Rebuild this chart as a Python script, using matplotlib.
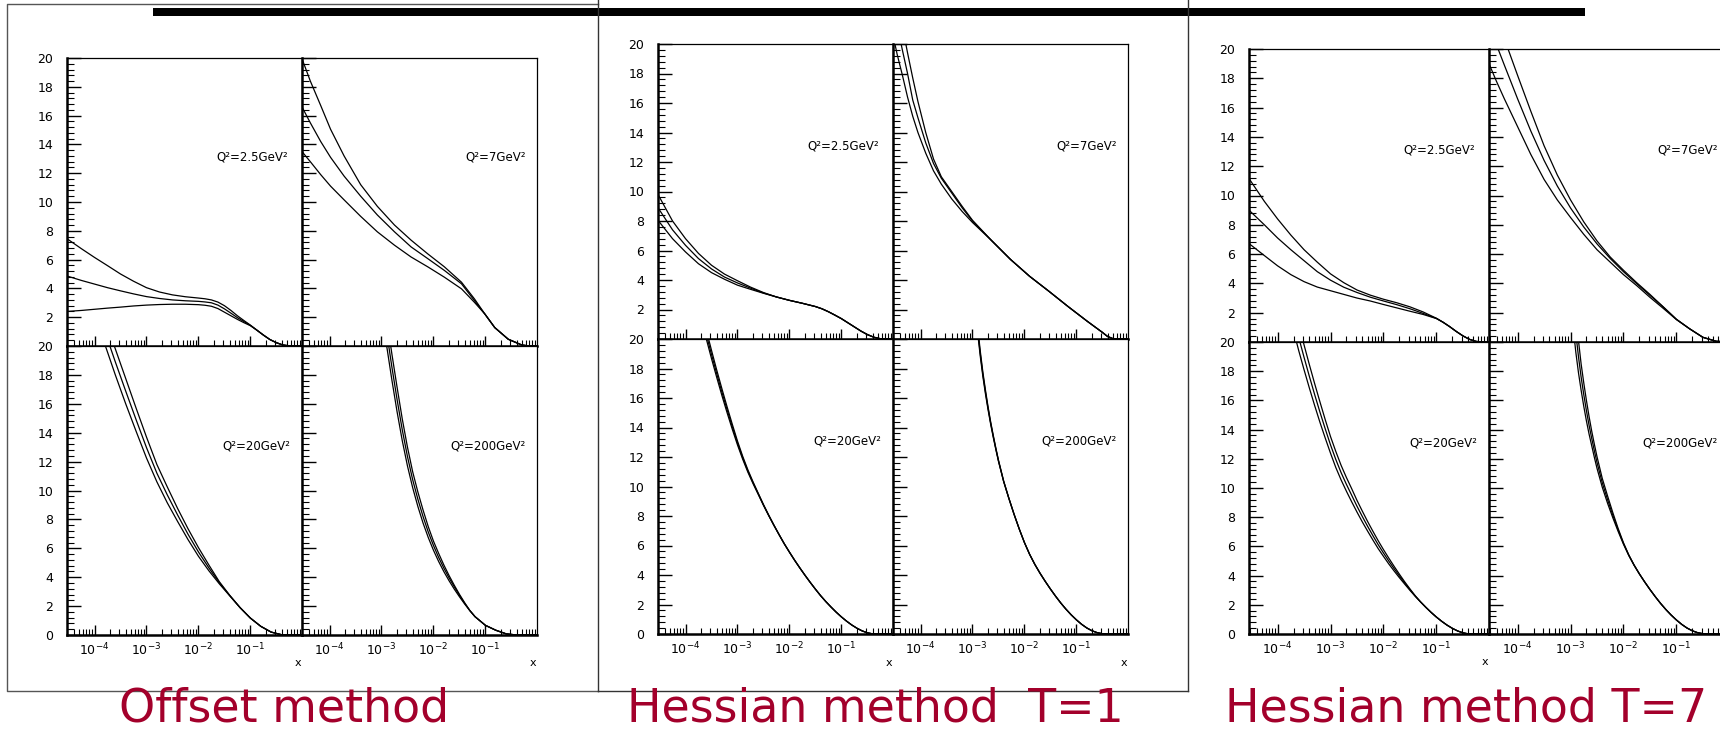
import numpy as np
import matplotlib
matplotlib.use('Agg')
import matplotlib.pyplot as plt
from matplotlib.ticker import MultipleLocator, LogLocator, NullFormatter, FuncFormatter
from matplotlib.lines import Line2D
from matplotlib.patches import Rectangle

# ---- data: log10(x) grids and three curves per Q^2 ----
# Offset method
off_q25_logx = [-4.53, -4.25, -4.0, -3.75, -3.5, -3.25, -3.0, -2.75, -2.5, -2.25, -2.0, -1.875, -1.75,
                -1.625, -1.5, -1.375, -1.25, -1.125, -1.0, -0.875, -0.75, -0.625, -0.5, -0.375, -0.25, 0.0]
off_q25_hi = [7.45, 6.75, 6.15, 5.58, 5.0, 4.5, 4.05, 3.75, 3.55, 3.42, 3.33, 3.28, 3.2,
              3.05, 2.8, 2.47, 2.1, 1.77, 1.45, 1.1, 0.76, 0.45, 0.23, 0.07, 0.01, 0.0]
off_q25_mid = [4.86, 4.55, 4.3, 4.05, 3.83, 3.62, 3.43, 3.3, 3.2, 3.14, 3.1, 3.06, 3.0,
               2.84, 2.58, 2.28, 1.97, 1.7, 1.43, 1.1, 0.76, 0.45, 0.23, 0.07, 0.01, 0.0]
off_q25_lo = [2.4, 2.47, 2.55, 2.63, 2.7, 2.78, 2.84, 2.88, 2.9, 2.9, 2.87, 2.83, 2.76,
              2.6, 2.35, 2.1, 1.85, 1.62, 1.41, 1.1, 0.76, 0.45, 0.23, 0.07, 0.01, 0.0]

off_q7_logx = [-4.53, -4.37, -4.17, -3.98, -3.72, -3.4, -3.08, -2.75, -2.43, -2.11, -1.79, -1.46,
               -1.21, -1.01, -0.82, -0.56, -0.3, -0.15, 0.0]
off_q7_hi = [19.95, 18.4, 16.7, 15.05, 13.2, 11.2, 9.7, 8.4, 7.35, 6.4, 5.5, 4.43,
             3.27, 2.22, 1.28, 0.47, 0.07, 0.0, 0.0]
off_q7_mid = [16.6, 15.5, 14.2, 13.1, 11.8, 10.4, 9.1, 7.93, 6.88, 6.07, 5.25, 4.32,
              3.15, 2.22, 1.28, 0.47, 0.07, 0.0, 0.0]
off_q7_lo = [13.5, 12.8, 11.9, 11.1, 10.15, 9.0, 7.93, 7.0, 6.18, 5.5, 4.78, 3.97,
             3.03, 2.22, 1.28, 0.47, 0.07, 0.0, 0.0]

off_q20_logx = [-3.8, -3.6, -3.4, -3.2, -3.0, -2.8, -2.6, -2.4, -2.2, -2.0, -1.8, -1.6, -1.4,
                -1.2, -1.0, -0.8, -0.6, -0.4, -0.2, 0.0]
off_q20_lo = [20.1, 18.0, 16.0, 14.1, 12.25, 10.6, 9.15, 7.85, 6.6, 5.45, 4.45, 3.55, 2.72,
              1.9, 1.17, 0.6, 0.2, 0.02, 0.0, 0.0]
off_q20_mid = [21.0, 18.9, 16.88, 14.9, 12.97, 11.2, 9.7, 8.3, 6.97, 5.75, 4.65, 3.63, 2.74,
               1.9, 1.17, 0.6, 0.2, 0.02, 0.0, 0.0]
off_q20_hi = [21.9, 19.8, 17.75, 15.7, 13.7, 11.8, 10.25, 8.75, 7.35, 6.05, 4.85, 3.7, 2.76,
              1.9, 1.17, 0.6, 0.2, 0.02, 0.0, 0.0]

off_q200_logx = [-3.0, -2.9, -2.8, -2.7, -2.6, -2.5, -2.4, -2.3, -2.2, -2.1, -2.0, -1.9, -1.8,
                 -1.7, -1.6, -1.5, -1.4, -1.3, -1.2, -1.0, -0.8, -0.6, -0.4, 0.0]
off_q200_lo = [22.4, 20.0, 17.65, 15.45, 13.45, 11.7, 10.2, 8.9, 7.75, 6.75, 5.87, 5.09, 4.39,
               3.76, 3.18, 2.65, 2.15, 1.69, 1.27, 0.67, 0.33, 0.08, 0.0, 0.0]
off_q200_mid = [23.4, 20.95, 18.55, 16.3, 14.2, 12.35, 10.75, 9.4, 8.2, 7.13, 6.2, 5.37, 4.63,
                3.96, 3.34, 2.75, 2.2, 1.69, 1.27, 0.67, 0.33, 0.08, 0.0, 0.0]
off_q200_hi = [24.4, 21.9, 19.45, 17.15, 14.95, 13.0, 11.3, 9.9, 8.65, 7.5, 6.5, 5.65, 4.85,
               4.12, 3.45, 2.82, 2.24, 1.7, 1.27, 0.67, 0.33, 0.08, 0.0, 0.0]

# Hessian method T=1
h1_q25_logx = [-4.53, -4.25, -4.0, -3.75, -3.5, -3.25, -3.0, -2.75, -2.5, -2.25, -2.0, -1.75, -1.5,
               -1.375, -1.25, -1.125, -1.0, -0.875, -0.75, -0.625, -0.5, -0.375, -0.25, 0.0]
h1_q25_hi = [9.8, 8.0, 6.8, 5.8, 5.0, 4.4, 3.95, 3.52, 3.15, 2.85, 2.62, 2.42, 2.2,
             2.05, 1.85, 1.62, 1.38, 1.1, 0.82, 0.54, 0.3, 0.12, 0.02, 0.0]
h1_q25_mid = [8.9, 7.4, 6.35, 5.45, 4.75, 4.2, 3.8, 3.45, 3.12, 2.85, 2.62, 2.42, 2.2,
              2.05, 1.85, 1.62, 1.38, 1.1, 0.82, 0.54, 0.3, 0.12, 0.02, 0.0]
h1_q25_lo = [8.05, 6.8, 5.9, 5.1, 4.5, 4.05, 3.65, 3.37, 3.1, 2.85, 2.62, 2.42, 2.2,
             2.05, 1.85, 1.62, 1.38, 1.1, 0.82, 0.54, 0.3, 0.12, 0.02, 0.0]

h1_q7_logx = [-4.53, -4.45, -4.35, -4.25, -4.15, -4.05, -3.9, -3.75, -3.6, -3.4, -3.2, -3.0,
              -2.64, -2.27, -1.9, -1.53, -1.16, -0.79, -0.5, -0.4, -0.3, -0.2, 0.0]
h1_q7_lo = [20.6, 19.3, 17.9, 16.4, 15.1, 14.0, 12.6, 11.4, 10.5, 9.5, 8.65, 7.9,
            6.7, 5.4, 4.25, 3.24, 2.2, 1.2, 0.45, 0.17, 0.03, 0.0, 0.0]
h1_q7_mid = [22.8, 21.3, 19.6, 18.0, 16.2, 15.0, 13.3, 11.9, 10.9, 9.9, 8.9, 8.0,
             6.7, 5.4, 4.25, 3.24, 2.2, 1.2, 0.45, 0.17, 0.03, 0.0, 0.0]
h1_q7_hi = [24.5, 23.0, 21.2, 19.4, 17.7, 16.1, 14.0, 12.2, 11.0, 10.0, 9.0, 8.05,
            6.7, 5.4, 4.25, 3.24, 2.2, 1.2, 0.45, 0.17, 0.03, 0.0, 0.0]

h1_q20_logx = [-3.7, -3.6, -3.5, -3.4, -3.3, -3.2, -3.1, -3.0, -2.9, -2.8, -2.7, -2.6, -2.5, -2.4,
               -2.3, -2.2, -2.1, -2.0, -1.9, -1.8, -1.7, -1.6, -1.5, -1.4, -1.3, -1.2, -1.1,
               -1.0, -0.9, -0.8, -0.7, -0.6, -0.5, -0.4, -0.3, 0.0]
h1_q20_mid = [21.7, 20.3, 18.95, 17.65, 16.4, 15.2, 14.05, 12.95, 11.95, 11.05, 10.25, 9.5, 8.75, 8.05,
              7.38, 6.74, 6.12, 5.55, 5.0, 4.48, 3.98, 3.5, 3.04, 2.6, 2.2, 1.83, 1.48,
              1.16, 0.87, 0.61, 0.39, 0.21, 0.08, 0.01, 0.0, 0.0]
h1_q20_lo = [21.4, 20.0, 18.67, 17.4, 16.17, 15.0, 13.88, 12.82, 11.85, 10.97, 10.19, 9.46, 8.72, 8.03,
             7.37, 6.74, 6.12, 5.55, 5.0, 4.48, 3.98, 3.5, 3.04, 2.6, 2.2, 1.83, 1.48,
             1.16, 0.87, 0.61, 0.39, 0.21, 0.08, 0.01, 0.0, 0.0]
h1_q20_hi = [22.0, 20.6, 19.23, 17.9, 16.63, 15.4, 14.22, 13.08, 12.05, 11.13, 10.31, 9.54, 8.78, 8.07,
             7.39, 6.74, 6.12, 5.55, 5.0, 4.48, 3.98, 3.5, 3.04, 2.6, 2.2, 1.83, 1.48,
             1.16, 0.87, 0.61, 0.39, 0.21, 0.08, 0.01, 0.0, 0.0]

h1_q200_logx = [-2.95, -2.9, -2.85, -2.8, -2.75, -2.7, -2.65, -2.6, -2.55, -2.5, -2.4, -2.3, -2.2,
                -2.1, -2.0, -1.9, -1.8, -1.7, -1.6, -1.5, -1.4, -1.3, -1.2, -1.1, -1.0, -0.9,
                -0.8, -0.7, -0.6, -0.5, -0.4, 0.0]
h1_q200_mid = [22.3, 20.6, 19.0, 17.6, 16.4, 15.3, 14.3, 13.4, 12.55, 11.75, 10.35, 9.2, 8.12,
               7.12, 6.2, 5.4, 4.72, 4.12, 3.57, 3.05, 2.56, 2.1, 1.68, 1.3, 0.96, 0.66,
               0.41, 0.22, 0.09, 0.02, 0.0, 0.0]
h1_q200_lo = [22.1, 20.4, 18.82, 17.45, 16.27, 15.2, 14.22, 13.33, 12.5, 11.71, 10.33, 9.19, 8.12,
              7.12, 6.2, 5.4, 4.72, 4.12, 3.57, 3.05, 2.56, 2.1, 1.68, 1.3, 0.96, 0.66,
              0.41, 0.22, 0.09, 0.02, 0.0, 0.0]
h1_q200_hi = [22.5, 20.8, 19.18, 17.75, 16.53, 15.4, 14.38, 13.47, 12.6, 11.79, 10.37, 9.21, 8.12,
              7.12, 6.2, 5.4, 4.72, 4.12, 3.57, 3.05, 2.56, 2.1, 1.68, 1.3, 0.96, 0.66,
              0.41, 0.22, 0.09, 0.02, 0.0, 0.0]

# Hessian method T=7
h7_q25_logx = [-4.54, -4.25, -4.0, -3.75, -3.5, -3.25, -3.0, -2.75, -2.5, -2.25, -2.0, -1.75, -1.5,
               -1.25, -1.0, -0.875, -0.75, -0.625, -0.5, -0.375, -0.25, -0.125, 0.0]
h7_q25_hi = [11.16, 9.6, 8.4, 7.3, 6.3, 5.45, 4.65, 4.05, 3.55, 3.2, 2.92, 2.68, 2.4,
             2.05, 1.62, 1.35, 1.05, 0.72, 0.42, 0.18, 0.04, 0.0, 0.0]
h7_q25_mid = [9.0, 8.0, 7.1, 6.3, 5.55, 4.8, 4.22, 3.74, 3.38, 3.06, 2.8, 2.55, 2.27,
              1.95, 1.61, 1.35, 1.05, 0.72, 0.42, 0.18, 0.04, 0.0, 0.0]
h7_q25_lo = [6.72, 5.9, 5.2, 4.6, 4.12, 3.75, 3.5, 3.25, 3.0, 2.8, 2.56, 2.33, 2.1,
             1.88, 1.6, 1.35, 1.05, 0.72, 0.42, 0.18, 0.04, 0.0, 0.0]

h7_q7_logx = [-4.54, -4.4, -4.25, -4.0, -3.75, -3.5, -3.25, -3.0, -2.75, -2.5, -2.25, -2.0, -1.75,
              -1.5, -1.25, -1.0, -0.75, -0.5, -0.25, 0.0]
h7_q7_hi = [23.6, 22.2, 20.7, 18.2, 15.75, 13.4, 11.4, 9.7, 8.2, 6.9, 5.8, 4.9, 4.05,
            3.25, 2.4, 1.55, 0.9, 0.32, 0.05, 0.0]
h7_q7_mid = [21.6, 20.3, 18.9, 16.6, 14.4, 12.4, 10.65, 9.15, 7.85, 6.7, 5.7, 4.8, 3.98,
             3.18, 2.4, 1.55, 0.9, 0.32, 0.05, 0.0]
h7_q7_lo = [19.0, 17.8, 16.6, 14.7, 12.8, 11.1, 9.7, 8.5, 7.35, 6.3, 5.45, 4.6, 3.85,
            3.05, 2.3, 1.53, 0.9, 0.32, 0.05, 0.0]

h7_q20_logx = h1_q20_logx
h7_q20_mid = h1_q20_mid
h7_q20_lo = [20.8, 19.4, 18.1, 16.85, 15.65, 14.5, 13.42, 12.38, 11.4, 10.55, 9.78, 9.05, 8.35, 7.68,
             7.05, 6.44, 5.85, 5.32, 4.8, 4.32, 3.86, 3.42, 2.99, 2.58, 2.2, 1.83, 1.48,
             1.16, 0.87, 0.61, 0.39, 0.21, 0.08, 0.01, 0.0, 0.0]
h7_q20_hi = [22.6, 21.2, 19.8, 18.45, 17.15, 15.9, 14.68, 13.52, 12.5, 11.55, 10.72, 9.95, 9.15, 8.42,
             7.71, 7.04, 6.39, 5.78, 5.2, 4.64, 4.1, 3.58, 3.09, 2.62, 2.2, 1.83, 1.48,
             1.16, 0.87, 0.61, 0.39, 0.21, 0.08, 0.01, 0.0, 0.0]

h7_q200_logx = h1_q200_logx
h7_q200_mid = h1_q200_mid
h7_q200_lo = [21.0, 19.3, 17.9, 16.7, 15.6, 14.6, 13.7, 12.9, 12.1, 11.35, 10.05, 8.95, 7.95,
              7.02, 6.15, 5.38, 4.71, 4.12, 3.57, 3.05, 2.56, 2.1, 1.68, 1.3, 0.96, 0.66,
              0.41, 0.22, 0.09, 0.02, 0.0, 0.0]
h7_q200_hi = [23.6, 21.9, 20.1, 18.5, 17.2, 16.0, 14.9, 13.9, 13.0, 12.15, 10.65, 9.45, 8.3,
              7.22, 6.25, 5.42, 4.73, 4.12, 3.57, 3.05, 2.56, 2.1, 1.68, 1.3, 0.96, 0.66,
              0.41, 0.22, 0.09, 0.02, 0.0, 0.0]

q2_labels = ['Q²=2.5GeV²', 'Q²=7GeV²', 'Q²=20GeV²', 'Q²=200GeV²']
method_titles = ['Offset method', 'Hessian method  T=1', 'Hessian method T=7']

# ---- figure ----
W, H = 1720, 731
plt.rcParams['font.family'] = 'DejaVu Sans'
fig = plt.figure(figsize=(W / 100, H / 100), dpi=100)


def add_px_axes(left, top, width, height):
    return fig.add_axes([left / W, 1 - (top + height) / H, width / W, height / H])


def hide_zero(v, pos):
    return '' if abs(v) < 1e-9 else '%d' % round(v)


def draw_cell(ax, logx, curves, label, top_row, right_col, xmin, lab_x, show_x):
    x = np.power(10.0, logx)
    for y in curves:
        ax.plot(x, y, color='black', lw=0.9)
    ax.set_xscale('log')
    ax.set_xlim(xmin, 0.985)
    ax.set_ylim(0, 20)
    ax.yaxis.set_major_locator(MultipleLocator(2))
    ax.yaxis.set_minor_locator(MultipleLocator(0.4))
    ax.xaxis.set_major_locator(LogLocator(base=10, numticks=20))
    ax.xaxis.set_minor_locator(LogLocator(base=10, subs=np.arange(2, 10), numticks=20))
    ax.xaxis.set_minor_formatter(NullFormatter())
    ax.tick_params(axis='y', which='major', direction='in', length=10, width=1,
                   left=True, right=False, labelsize=9, pad=10)
    ax.tick_params(axis='y', which='minor', direction='in', length=5, width=0.8,
                   left=True, right=False)
    ax.tick_params(axis='x', which='major', direction='in', length=7, width=1,
                   top=False, bottom=True, labelsize=9, pad=5)
    ax.tick_params(axis='x', which='minor', direction='in', length=4, width=0.8,
                   top=False, bottom=True)
    if right_col:
        ax.tick_params(axis='y', labelleft=False)
    elif top_row:
        ax.yaxis.set_major_formatter(FuncFormatter(hide_zero))
    if top_row:
        ax.tick_params(axis='x', labelbottom=False)
    elif show_x:
        ax.text(0.995, -0.097, 'x', transform=ax.transAxes, ha='right', va='center', fontsize=8)
    ax.spines['left'].set_linewidth(1.8)
    ax.spines['bottom'].set_linewidth(1.8)
    ax.spines['top'].set_linewidth(0.9)
    ax.spines['right'].set_linewidth(0.9)
    ax.text(lab_x, 0.655, label, transform=ax.transAxes, ha='right', va='center', fontsize=8.5)


panels = [
    # left, top, row divider, bottom, cell width, xmin, curve sets
    (67, 58, 346, 635, 235, 10 ** -4.53,
     [(off_q25_logx, [off_q25_hi, off_q25_mid, off_q25_lo]),
      (off_q7_logx, [off_q7_hi, off_q7_mid, off_q7_lo]),
      (off_q20_logx, [off_q20_hi, off_q20_mid, off_q20_lo]),
      (off_q200_logx, [off_q200_hi, off_q200_mid, off_q200_lo])]),
    (658, 44, 339, 634, 235, 10 ** -4.53,
     [(h1_q25_logx, [h1_q25_hi, h1_q25_mid, h1_q25_lo]),
      (h1_q7_logx, [h1_q7_hi, h1_q7_mid, h1_q7_lo]),
      (h1_q20_logx, [h1_q20_hi, h1_q20_mid, h1_q20_lo]),
      (h1_q200_logx, [h1_q200_hi, h1_q200_mid, h1_q200_lo])]),
    (1249, 49, 342, 634, 240, 10 ** -4.54,
     [(h7_q25_logx, [h7_q25_hi, h7_q25_mid, h7_q25_lo]),
      (h7_q7_logx, [h7_q7_hi, h7_q7_mid, h7_q7_lo]),
      (h7_q20_logx, [h7_q20_hi, h7_q20_mid, h7_q20_lo]),
      (h7_q200_logx, [h7_q200_hi, h7_q200_mid, h7_q200_lo])]),
]

label_xs = [0.94, 0.952, 0.952, 0.952]
for left, top, mid, bottom, cw, xmin, sets in panels:
    cells = [(left, top, mid - top, True, False),
             (left + cw, top, mid - top, True, True),
             (left, mid, bottom - mid, False, False),
             (left + cw, mid, bottom - mid, False, True)]
    for k, (cl, ct, ch, top_row, right_col) in enumerate(cells):
        ax = add_px_axes(cl, ct, cw, ch)
        logx, curves = sets[k]
        draw_cell(ax, logx, curves, q2_labels[k], top_row, right_col, xmin, label_xs[k],
                  show_x=(cl + cw <= W))


# frames around the pasted plots
def fig_line(xs, ys, color='#333333', lw=1.0):
    fig.add_artist(Line2D([v / W for v in xs], [1 - v / H for v in ys],
                          transform=fig.transFigure, color=color, lw=lw))


fig_line([598, 7, 7, 598], [4, 4, 691, 691], color='#555555')
fig_line([598, 598], [0, 691])
fig_line([598, 1188], [691, 691])
fig_line([1188, 1188], [0, 691])

# thick rule at the top
fig.add_artist(Rectangle((153 / W, 1 - 16 / H), (1585 - 153) / W, 8 / H,
                         transform=fig.transFigure, color='black', lw=0))

# method titles
title_centers = [284, 875, 1466]
for cx, t in zip(title_centers, method_titles):
    fig.text(cx / W, 10 / H, t, ha='center', va='baseline', fontsize=33, color='#A3002B')

fig.savefig('out.png', dpi=100)
